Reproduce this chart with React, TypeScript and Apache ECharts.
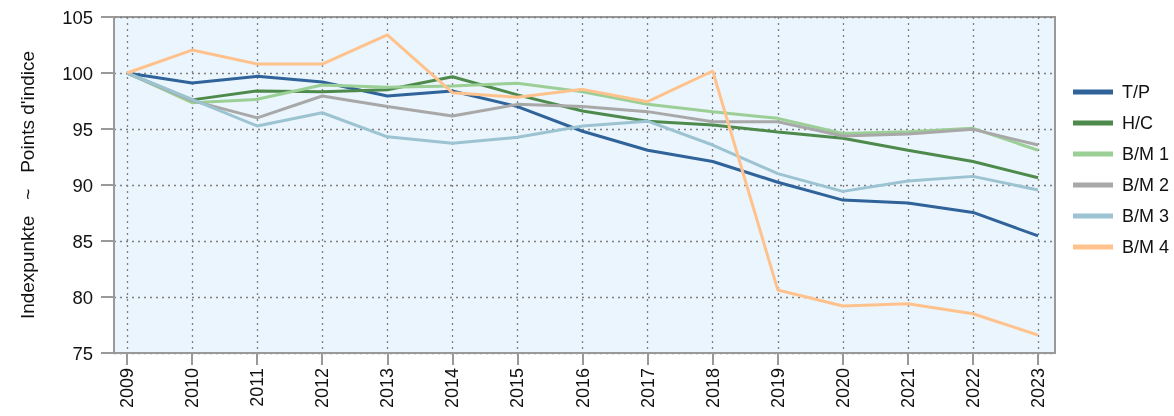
import React, { useEffect, useRef } from "react";
import * as echarts from "echarts";

const years = [2009, 2010, 2011, 2012, 2013, 2014, 2015, 2016, 2017, 2018, 2019, 2020, 2021, 2022, 2023];

const seriesNames = ["T/P", "H/C", "B/M 1", "B/M 2", "B/M 3", "B/M 4"];

const tp = [100, 99.1, 99.7, 99.2, 97.95, 98.4, 97.0, 94.8, 93.1, 92.1, 90.25, 88.65, 88.4, 87.55, 85.45];
const hc = [100, 97.6, 98.4, 98.33, 98.5, 99.67, 98.05, 96.6, 95.7, 95.36, 94.73, 94.17, 93.1, 92.1, 90.65];
const bm1 = [100, 97.35, 97.65, 98.93, 98.72, 98.84, 99.08, 98.33, 97.2, 96.55, 95.95, 94.6, 94.76, 95.06, 93.1];
const bm2 = [100, 97.53, 96.0, 97.95, 97.0, 96.16, 97.2, 97.0, 96.55, 95.65, 95.65, 94.37, 94.55, 94.97, 93.57];
const bm3 = [100, 97.65, 95.27, 96.45, 94.3, 93.72, 94.26, 95.27, 95.7, 93.57, 91.02, 89.43, 90.36, 90.77, 89.55];
const bm4 = [100, 102.05, 100.8, 100.8, 103.4, 98.24, 97.83, 98.54, 97.44, 100.18, 80.63, 79.2, 79.4, 78.5, 76.6];

const seriesValues = [tp, hc, bm1, bm2, bm3, bm4];
const colors = ["#2f6399", "#4e8a4c", "#9bcf96", "#a8a8a8", "#9cc3d1", "#ffc28c"];

const yTicks = [75, 80, 85, 90, 95, 100, 105];

const FONT = "'Liberation Sans', Arial, sans-serif";

export default function App() {
  const ref = useRef<HTMLDivElement>(null);

  useEffect(() => {
    if (!ref.current) return;
    const chart = echarts.init(ref.current, undefined, { renderer: "svg" });
    chart.setOption({
      animation: false,
      textStyle: { fontFamily: FONT },
      grid: {
        left: 114,
        right: 119,
        top: 17,
        bottom: 63,
        show: true,
        backgroundColor: "#eaf5fd",
        borderColor: "#999999",
        borderWidth: 2,
        containLabel: false,
      },
      legend: {
        orient: "vertical",
        left: 1068,
        top: 78,
        itemWidth: 40,
        itemHeight: 5,
        itemGap: 13,
        icon: "rect",
        textStyle: { fontSize: 18, color: "#111", fontFamily: FONT, padding: [0, 0, 0, 4] },
        data: seriesNames,
      },
      xAxis: {
        type: "value",
        min: years[0] - 0.2,
        max: years[years.length - 1] + 0.26,
        axisLine: { show: true, onZero: false, lineStyle: { color: "#999999", width: 2 } },
        axisTick: {
          show: true,
          customValues: years,
          length: 12,
          lineStyle: { color: "#999999", width: 2 },
        },
        axisLabel: {
          customValues: years,
          rotate: 90,
          margin: 15,
          fontSize: 18,
          color: "#111",
          fontFamily: FONT,
          formatter: (v: number) => String(v),
        },
        splitLine: {
          show: true,
          lineStyle: { color: "#7f7f7f", type: [2, 4], width: 1.3 },
        },
      },
      yAxis: {
        type: "value",
        min: 75,
        max: 105,
        interval: 5,
        name: "Indexpunkte   ~   Points d'indice",
        nameLocation: "middle",
        nameGap: 77,
        nameRotate: 90,
        nameTextStyle: { fontSize: 19, color: "#111", fontFamily: FONT },
        axisLine: { show: true, lineStyle: { color: "#999999", width: 2 } },
        axisTick: { show: true, length: 13, lineStyle: { color: "#999999", width: 2 } },
        axisLabel: {
          fontSize: 18.5,
          color: "#111",
          margin: 21,
          fontFamily: FONT,
          customValues: yTicks,
        },
        splitLine: {
          show: true,
          lineStyle: { color: "#7f7f7f", type: [2, 4], width: 1.3 },
        },
      },
      series: seriesNames.map((name, i) => ({
        name,
        type: "line",
        data: years.map((y, j) => [y, seriesValues[i][j]]),
        showSymbol: false,
        symbol: "none",
        lineStyle: { width: 3, color: colors[i] },
        itemStyle: { color: colors[i] },
        z: 2 + i,
      })),
    });
    return () => chart.dispose();
  }, []);

  return (
    <div
      ref={ref}
      style={{ position: "fixed", left: 0, top: 0, width: 1174, height: 416 }}
    />
  );
}
